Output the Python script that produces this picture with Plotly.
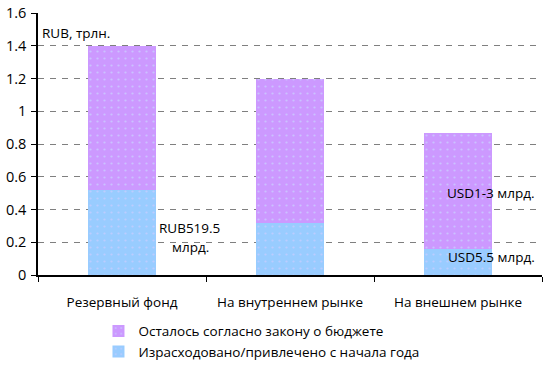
import plotly.graph_objects as go

categories = ["Резервный фонд", "На внутреннем рынке", "На внешнем рынке"]
spent = [0.52, 0.32, 0.16]
remaining_total = [1.40, 1.20, 0.87]
remaining = [t - s for t, s in zip(remaining_total, spent)]
y_ticks = [0, 0.2, 0.4, 0.6, 0.8, 1, 1.2, 1.4, 1.6]
y_tick_labels = ["0", "0.2", "0.4", "0.6", "0.8", "1", "1.2", "1.4", "1.6"]

FONT = "Open Sans, DejaVu Sans, sans-serif"
FS = 13.5

fig = go.Figure()
fig.add_trace(go.Bar(
    x=categories, y=spent, name="Израсходовано/привлечено с начала года",
    marker=dict(color="#99CCFF", line=dict(width=0),
                pattern=dict(shape=".", fgcolor="#E0CCFF", size=7, solidity=0.08)),
    width=0.405,
))
fig.add_trace(go.Bar(
    x=categories, y=remaining, name="Осталось согласно закону о бюджете",
    marker=dict(color="#CC99FF", line=dict(width=0),
                pattern=dict(shape=".", fgcolor="#C8ECFF", size=7, solidity=0.08)),
    width=0.405,
))

annots = [
    dict(x=-0.5, y=1.48, text="RUB, трлн.", xanchor="left", xshift=2),
    dict(x=0.21, y=0.29, text="RUB519.5", xanchor="left"),
    dict(x=0.41, y=0.17, text="млрд.", xanchor="center"),
    dict(x=2.47, y=0.5, text="USD1-3 млрд.", xanchor="right"),
    dict(x=2.47, y=0.11, text="USD5.5 млрд.", xanchor="right"),
]
for a in annots:
    fig.add_annotation(xref="x", yref="y", showarrow=False, yanchor="middle",
                       font=dict(family=FONT, size=FS, color="#000000"), **a)

fig.update_layout(
    barmode="stack",
    width=556, height=368,
    margin=dict(l=38, r=14, t=13, b=93, autoexpand=False),
    paper_bgcolor="white", plot_bgcolor="white",
    font=dict(family=FONT, size=FS, color="#000000"),
    legend=dict(orientation="v", traceorder="reversed", x=0.12, y=-0.155,
                xanchor="left", yanchor="top", font=dict(family=FONT, size=FS),
                itemwidth=30, tracegroupgap=0, bgcolor="rgba(0,0,0,0)"),
    showlegend=True,
)
fig.update_xaxes(
    showline=True, linecolor="#000000", linewidth=1.5, automargin=False,
    ticks="outside", tickson="boundaries", ticklen=5, tickcolor="#000000",
    showgrid=False, range=[-0.5, 2.5], ticklabelstandoff=14,
    tickfont=dict(family=FONT, size=FS),
)
fig.update_yaxes(
    range=[0, 1.6], tickvals=y_ticks, ticktext=y_tick_labels, automargin=False,
    showline=True, linecolor="#000000", linewidth=1.5,
    ticks="outside", ticklen=5, tickcolor="#000000",
    showgrid=True, gridcolor="#7f7f7f", griddash="6px,6px", gridwidth=1,
    zeroline=False, ticklabelstandoff=2,
    tickfont=dict(family=FONT, size=14.5),
)

fig.write_html("out.html", config={"displayModeBar": False},
               post_script="document.body.style.margin='0px';document.body.style.padding='0px';")
